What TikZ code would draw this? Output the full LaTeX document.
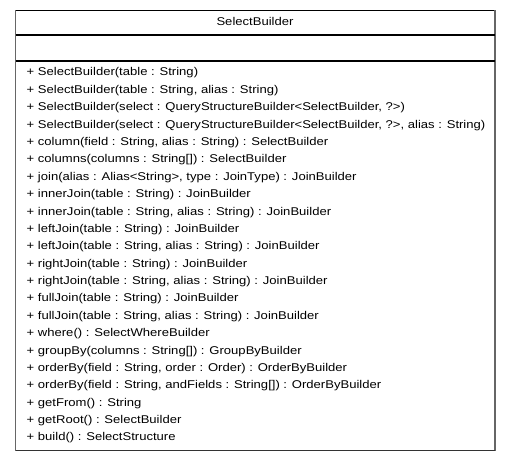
\documentclass[tikz,border=0pt]{standalone}
\usepackage{fontspec}
\setmainfont{Liberation Sans}[FakeStretch=1.16]
\begin{document}
\begin{tikzpicture}[x=1bp,y=-1bp,
  member/.style={anchor=base west,inner sep=0pt,font=\fontsize{11.3}{13}\selectfont},
  titletext/.style={anchor=base,inner sep=0pt,font=\fontsize{11.3}{13}\selectfont},
  edge/.style={draw=black!60,line width=1.6bp},
  rule/.style={draw=black,line width=1.2bp}]
\useasboundingbox (0,0) rectangle (512,461);
\fill[white] (0,0) rectangle (512,461);
\coordinate (tl) at (15.5,10.5);
\coordinate (tr) at (495,10.5);
\coordinate (bl) at (15.5,450.5);
\coordinate (br) at (495,450.5);
\draw[draw=black,line width=0.9bp] (tl) -- (tr);
\draw[edge] (tl) -- (bl);
\draw[edge] (tr) -- (br);
\draw[draw=black!80,line width=1.4bp] (bl) -- (br);
\coordinate (d1l) at (15.5,35);
\coordinate (d1r) at (495,35);
\coordinate (d2l) at (15.5,61);
\coordinate (d2r) at (495,61);
\draw[rule] (d1l) -- (d1r);
\draw[rule] (d2l) -- (d2r);
\node[titletext] (title) at (255,26) {SelectBuilder};
\foreach \t [count=\i from 0] in {
 {+ SelectBuilder(table : String)},
 {+ SelectBuilder(table : String, alias : String)},
 {+ SelectBuilder(select : QueryStructureBuilder<SelectBuilder, ?>)},
 {+ SelectBuilder(select : QueryStructureBuilder<SelectBuilder, ?>, alias : String)},
 {+ column(field : String, alias : String) : SelectBuilder},
 {+ columns(columns : String[]) : SelectBuilder},
 {+ join(alias : Alias<String>, type : JoinType) : JoinBuilder},
 {+ innerJoin(table : String) : JoinBuilder},
 {+ innerJoin(table : String, alias : String) : JoinBuilder},
 {+ leftJoin(table : String) : JoinBuilder},
 {+ leftJoin(table : String, alias : String) : JoinBuilder},
 {+ rightJoin(table : String) : JoinBuilder},
 {+ rightJoin(table : String, alias : String) : JoinBuilder},
 {+ fullJoin(table : String) : JoinBuilder},
 {+ fullJoin(table : String, alias : String) : JoinBuilder},
 {+ where() : SelectWhereBuilder},
 {+ groupBy(columns : String[]) : GroupByBuilder},
 {+ orderBy(field : String, order : Order) : OrderByBuilder},
 {+ orderBy(field : String, andFields : String[]) : OrderByBuilder},
 {+ getFrom() : String},
 {+ getRoot() : SelectBuilder},
 {+ build() : SelectStructure}}
 \node[member] (m\i) at (26.5,{76+17.38*\i}) {\t};
\end{tikzpicture}
\end{document}
